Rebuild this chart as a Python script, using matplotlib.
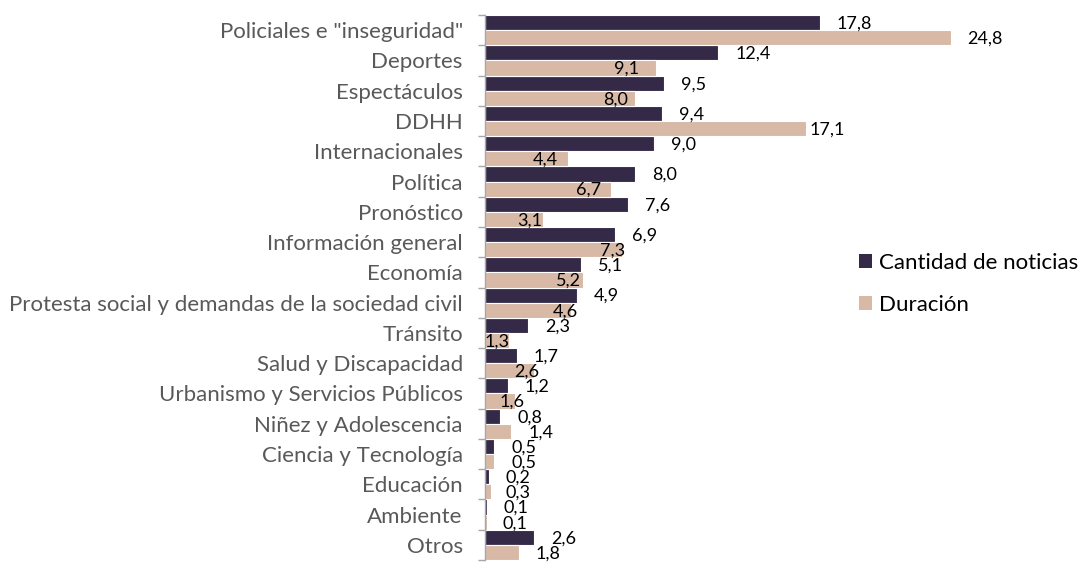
import matplotlib
matplotlib.use("Agg")
import matplotlib.pyplot as plt
from matplotlib.patches import Patch
from matplotlib.ticker import FixedLocator

categories = [
    'Policiales e "inseguridad"', "Deportes", "Espectáculos", "DDHH",
    "Internacionales", "Política", "Pronóstico", "Información general",
    "Economía", "Protesta social y demandas de la sociedad civil", "Tránsito",
    "Salud y Discapacidad", "Urbanismo y Servicios Públicos",
    "Niñez y Adolescencia", "Ciencia y Tecnología", "Educación", "Ambiente",
    "Otros",
]
cantidad = [17.8, 12.4, 9.5, 9.4, 9.0, 8.0, 7.6, 6.9, 5.1, 4.9, 2.3, 1.7, 1.2,
            0.8, 0.5, 0.2, 0.1, 2.6]
duracion = [24.8, 9.1, 8.0, 17.1, 4.4, 6.7, 3.1, 7.3, 5.2, 4.6, 1.3, 2.6, 1.6,
            1.4, 0.5, 0.3, 0.1, 1.8]
series_names = ["Cantidad de noticias", "Duración"]

# label placement offsets (pixels from bar end to label left edge)
cant_offsets = [17] * len(cantidad)
dur_offsets = [16, -42, -32, 3, -35, -35, -26, -22, -27, -19, -25, -20, -16,
               17, 17, 15, 16, 17]

DARK = "#342a48"
TAN = "#d7b9a6"
LABEL_GREY = "#595959"
FONT = ["Lato", "DejaVu Sans"]

W, H = 1078, 563
fig = plt.figure(figsize=(W / 100, H / 100), dpi=100)
x0, x1 = 485, 485 + 30 * 18.8
y0, y1 = 15, 560
ax = fig.add_axes([x0 / W, 1 - y1 / H, (x1 - x0) / W, (y1 - y0) / H])

n = len(categories)
ypos = list(range(n))
h = 0.5
ax.barh([y - h / 2 for y in ypos], cantidad, height=h, color=DARK,
        edgecolor="white", linewidth=0.8)
ax.barh([y + h / 2 for y in ypos], duracion, height=h, color=TAN,
        edgecolor="white", linewidth=0.8)

ax.set_xlim(0, 30)
ax.set_ylim(n - 0.5, -0.5)

for y, v, off in zip(ypos, cantidad, cant_offsets):
    ax.annotate(f"{v:.1f}".replace(".", ","), xy=(v, y - h / 2),
                xytext=(off, -1), textcoords="offset pixels",
                ha="left", va="center", fontsize=13, color="black",
                family=FONT)
for y, v, off in zip(ypos, duracion, dur_offsets):
    ax.annotate(f"{v:.1f}".replace(".", ","), xy=(v, y + h / 2),
                xytext=(off, -1), textcoords="offset pixels",
                ha="left", va="center", fontsize=13, color="black",
                family=FONT)

for s in ["top", "right", "bottom"]:
    ax.spines[s].set_visible(False)
ax.spines["left"].set_color("#a6a6a6")
ax.spines["left"].set_linewidth(1.0)
ax.set_xticks([])
ax.set_yticks(ypos)
ax.set_yticklabels(categories, fontsize=16, color=LABEL_GREY, family=FONT)
ax.tick_params(axis="y", which="major", length=0, pad=16)
ax.yaxis.set_minor_locator(FixedLocator([y - 0.5 for y in range(n + 1)]))
ax.tick_params(axis="y", which="minor", length=5, color="#a6a6a6", width=1.0,
               direction="out")

handles = [Patch(facecolor=DARK, edgecolor="none"),
           Patch(facecolor=TAN, edgecolor="none")]
fig.legend(handles, series_names, loc="center left",
           bbox_to_anchor=(859 / W, 1 - 284 / H), frameon=False,
           prop={"family": FONT, "size": 16}, handlelength=0.6,
           handleheight=0.6, handletextpad=0.32, labelspacing=1.0,
           borderaxespad=0, borderpad=0)

fig.savefig("out.png", dpi=100)
